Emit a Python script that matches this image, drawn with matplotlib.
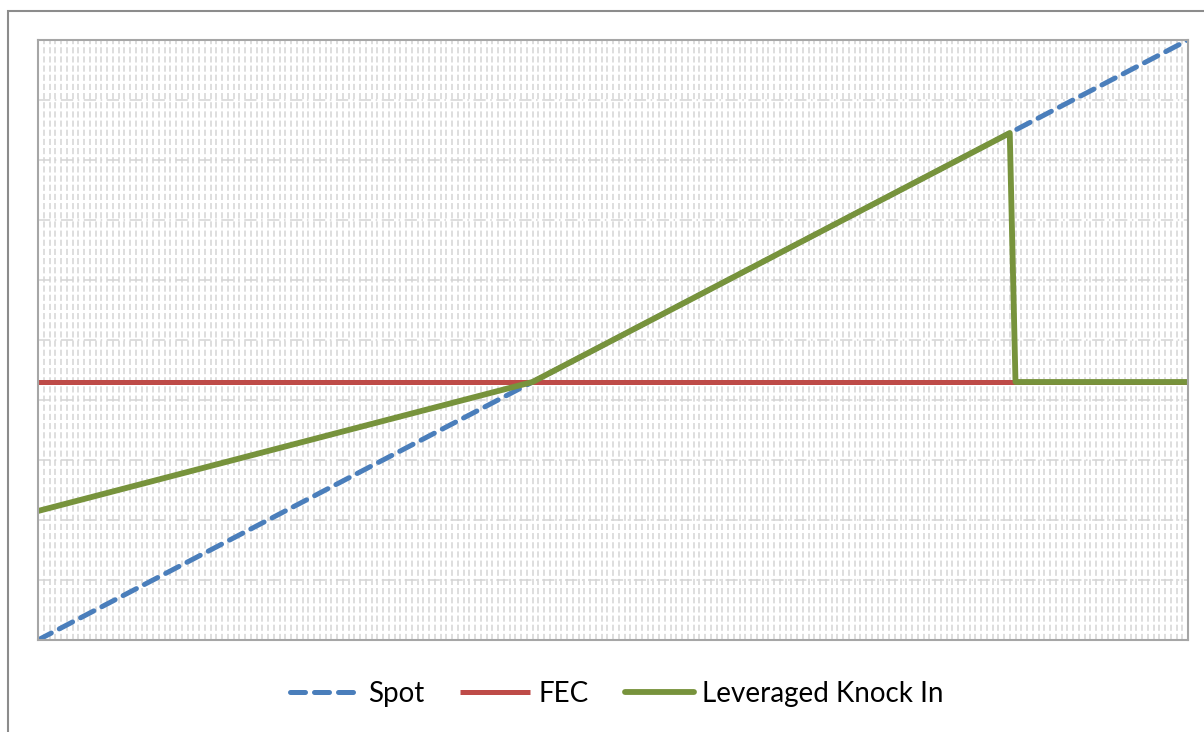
import matplotlib.pyplot as plt
from matplotlib.patches import Rectangle

# category axis 0..200, value axis 0..10 (labels hidden as in the original)
spot_x = [0, 200]
spot_y = [0.0, 10.0]

fec_x = [0, 200]
fec_y = [4.3, 4.3]

lki_x = [0, 86, 169, 170, 200]
lki_y = [2.15, 4.3, 8.45, 4.3, 4.3]

labels = ["Spot", "FEC", "Leveraged Knock In"]
colors = ["#4a7ebb", "#be4b48", "#77933c"]

W, H = 1204, 732
fig = plt.figure(figsize=(W / 100, H / 100), dpi=100)

# outer chart border
fig.patches.append(Rectangle((8 / W, -0.1), 1.2, 1 - 11 / H + 0.1,
                             transform=fig.transFigure, fill=False,
                             edgecolor="#8c8c8c", linewidth=1.5))

ax = fig.add_axes([38 / W, 1 - 640 / H, 1150 / W, 600 / H])

# grid
for i in range(0, 201):
    ax.axvline(i, color="#d4d4d4", linewidth=1.1, linestyle=(0, (4, 2)), zorder=0)
for j in range(0, 11):
    ax.axhline(j, color="#d4d4d4", linewidth=1.1, linestyle=(0, (8, 3, 1, 3)), zorder=0)

ax.plot(spot_x, spot_y, color=colors[0], linewidth=3.6,
        linestyle=(0, (3.0, 1.8)), dash_capstyle="round", label=labels[0])
ax.plot(fec_x, fec_y, color=colors[1], linewidth=3.6,
        solid_capstyle="butt", label=labels[1])
ax.plot(lki_x, lki_y, color=colors[2], linewidth=4.2,
        solid_capstyle="round", solid_joinstyle="round", label=labels[2])

ax.set_xlim(0, 200)
ax.set_ylim(0, 10)
ax.set_xticks([])
ax.set_yticks([])
for s in ax.spines.values():
    s.set_color("#a6a6a6")
    s.set_linewidth(1.5)

leg = fig.legend(loc="center", bbox_to_anchor=(617 / W, 1 - 694 / H), ncol=3,
                 frameon=False, prop={"family": "Lato", "size": 20},
                 handlelength=2.5, handletextpad=0.3, columnspacing=1.3)

fig.savefig("out.png", dpi=100)
